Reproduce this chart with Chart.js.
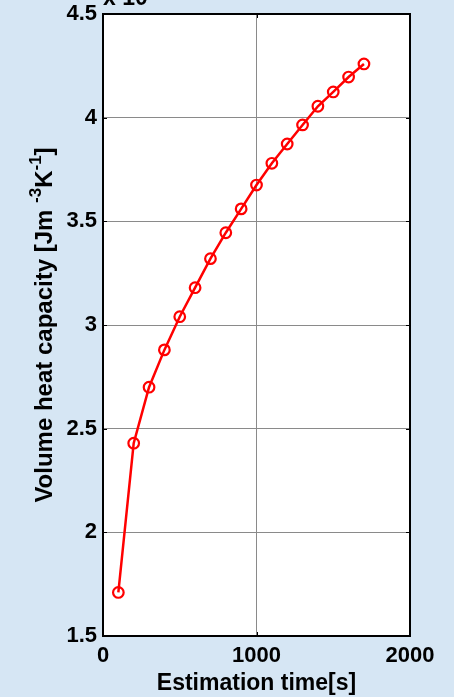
<!DOCTYPE html>
<html>
<head>
<meta charset="utf-8">
<script src="https://cdn.jsdelivr.net/npm/chart.js@4"></script>
<style>
  html, body { margin: 0; padding: 0; background: #d6e6f4; }
  #wrap { width: 454px; height: 697px; position: relative; }
</style>
</head>
<body>
<div id="wrap"><canvas id="heatChart"></canvas></div>
<script>
// Estimation time [s] vs volume heat capacity (x 10^6 J m^-3 K^-1)
const estimationTimes = [100, 200, 300, 400, 500, 600, 700, 800, 900, 1000, 1100, 1200, 1300, 1400, 1500, 1600, 1700];
const heatCapacity = [1.71, 2.43, 2.70, 2.88, 3.04, 3.18, 3.32, 3.445, 3.56, 3.675, 3.78, 3.873, 3.965, 4.055, 4.124, 4.196, 4.259];
const xTicks = [0, 1000, 2000];
const yTicks = [1.5, 2, 2.5, 3, 3.5, 4, 4.5];

const FONT = '"Liberation Sans", Arial, sans-serif';

// white axes box, frame, inner tick marks and the rotated y label
const matlabAxes = {
  id: 'matlabAxes',
  beforeDraw(chart) {
    const { ctx, chartArea: a } = chart;
    ctx.save();
    ctx.fillStyle = '#ffffff';
    ctx.fillRect(a.left, a.top, a.right - a.left, a.bottom - a.top);
    ctx.restore();
  },
  afterDraw(chart) {
    const { ctx, chartArea: a, scales } = chart;
    ctx.save();
    // inner tick marks
    ctx.strokeStyle = '#000';
    ctx.lineWidth = 1;
    yTicks.forEach(v => {
      const y = Math.round(scales.y.getPixelForValue(v)) + 0.5;
      ctx.beginPath();
      ctx.moveTo(a.left, y); ctx.lineTo(a.left + 4, y);
      ctx.moveTo(a.right, y); ctx.lineTo(a.right - 4, y);
      ctx.stroke();
    });
    xTicks.forEach(v => {
      const x = Math.round(scales.x.getPixelForValue(v)) + 0.5;
      ctx.beginPath();
      ctx.moveTo(x, a.bottom); ctx.lineTo(x, a.bottom - 4);
      ctx.moveTo(x, a.top); ctx.lineTo(x, a.top + 4);
      ctx.stroke();
    });
    // frame
    ctx.lineWidth = 2;
    ctx.strokeRect(a.left, a.top, a.right - a.left, a.bottom - a.top);

    // y label with superscripts
    ctx.fillStyle = '#000';
    ctx.textBaseline = 'alphabetic';
    const big = 'bold 24px ' + FONT;
    const small = 'bold 17px ' + FONT;
    const parts = [
      { t: 'Volume heat capacity [Jm ', f: big, up: 0 },
      { t: '-3', f: small, up: 11 },
      { t: 'K', f: big, up: 0 },
      { t: '-1', f: small, up: 11 },
      { t: ']', f: big, up: 0 }
    ];
    let total = 0;
    parts.forEach(p => { ctx.font = p.f; p.w = ctx.measureText(p.t).width; total += p.w; });
    ctx.translate(52, (a.top + a.bottom) / 2);
    ctx.rotate(-Math.PI / 2);
    let x = -total / 2;
    parts.forEach(p => {
      ctx.font = p.f;
      ctx.fillText(p.t, x, -p.up);
      x += p.w;
    });
    ctx.restore();

    // exponent above the axis
    ctx.save();
    ctx.fillStyle = '#000';
    ctx.textBaseline = 'alphabetic';
    ctx.font = 'bold 23px ' + FONT;
    ctx.fillText('x 10', a.left, 5);
    const w = ctx.measureText('x 10').width;
    ctx.font = 'bold 16px ' + FONT;
    ctx.fillText('6', a.left + w + 1, -6);
    ctx.restore();
  }
};

new Chart(document.getElementById('heatChart'), {
  type: 'line',
  data: {
    datasets: [{
      data: estimationTimes.map((t, i) => ({ x: t, y: heatCapacity[i] })),
      borderColor: '#ff0000',
      borderWidth: 2.5,
      backgroundColor: 'rgba(0,0,0,0)',
      pointBorderColor: '#ff0000',
      pointBackgroundColor: 'rgba(0,0,0,0)',
      pointBorderWidth: 2.2,
      pointRadius: 5.3,
      pointStyle: 'circle',
      tension: 0
    }]
  },
  options: {
    responsive: true,
    maintainAspectRatio: false,
    animation: false,
    layout: { padding: { left: 0, right: 44, top: 14, bottom: 0 } },
    plugins: { legend: { display: false }, tooltip: { enabled: false } },
    scales: {
      x: {
        type: 'linear',
        min: 0,
        max: 2000,
        afterBuildTicks: s => { s.ticks = xTicks.map(v => ({ value: v })); },
        afterFit: s => { s.height = 61; s.paddingLeft = 0; s.paddingRight = 0; },
        ticks: {
          color: '#000',
          font: { family: FONT, size: 22, weight: 'bold' },
          padding: 7,
          maxRotation: 0,
          callback: v => String(v)
        },
        grid: { color: '#8a8a8a', lineWidth: 1, drawTicks: false },
        border: { display: false },
        title: {
          display: true,
          text: 'Estimation time[s]',
          color: '#000',
          font: { family: FONT, size: 23, weight: 'bold' },
          padding: { top: 0, bottom: 0 }
        }
      },
      y: {
        type: 'linear',
        min: 1.5,
        max: 4.5,
        afterBuildTicks: s => { s.ticks = yTicks.map(v => ({ value: v })); },
        afterFit: s => { s.width = 103; s.paddingTop = 0; s.paddingBottom = 0; },
        ticks: {
          color: '#000',
          font: { family: FONT, size: 22, weight: 'bold' },
          padding: 6,
          callback: v => String(v)
        },
        grid: { color: '#8a8a8a', lineWidth: 1, drawTicks: false },
        border: { display: false }
      }
    }
  },
  plugins: [matlabAxes]
});
</script>
</body>
</html>
